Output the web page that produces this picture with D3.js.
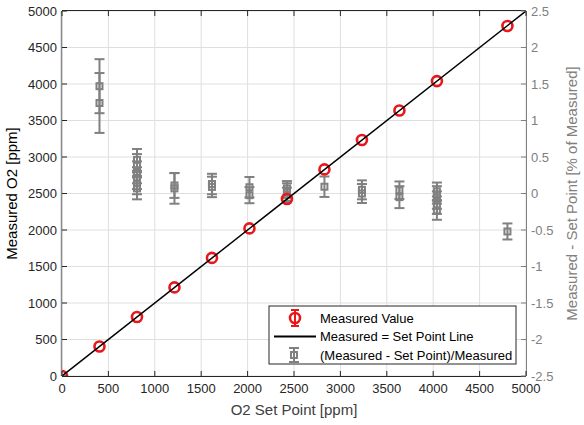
<!DOCTYPE html>
<html><head><meta charset="utf-8">
<script src="https://cdn.jsdelivr.net/npm/d3@7"></script>
<style>body{margin:0;background:#fff;} text{font-family:"Liberation Sans",Arial,sans-serif;}</style>
</head><body><svg id="c" width="584" height="425"></svg>
<script>
const setPoints = [0,404,808,1212,1616,2020,2424,2828,3232,3636,4040,4800];
const measured  = [0,404,808,1214,1618,2022,2424,2830,3232,3636,4040,4795];
const devX   = [404,404, 808,808,808,808,808,808, 1212,1212, 1616,1616, 2020,2020, 2424,2424,2424, 2828, 3232,3232, 3636,3636, 4040,4040,4040,4040,4040, 4800];
const devY   = [1.47,1.24, 0.46,0.39,0.29,0.21,0.14,0.07, 0.11,0.07, 0.13,0.09, 0.086,-0.023, 0.07,0.02,-0.02, 0.093, 0.05,0.0, 0.045,-0.05, 0.03,-0.02,-0.09,-0.16,-0.23, -0.52];
const devErr = [0.37,0.41, 0.15,0.15,0.15,0.15,0.15,0.15, 0.17,0.21, 0.14,0.14, 0.14,0.11, 0.10,0.12,0.10, 0.14, 0.13,0.13, 0.12,0.15, 0.12,0.12,0.12,0.12,0.13, 0.11];
const xTicks = [0,500,1000,1500,2000,2500,3000,3500,4000,4500,5000];
const yLeftTicks = [0,500,1000,1500,2000,2500,3000,3500,4000,4500,5000];
const yRightTicks = [-2.5,-2,-1.5,-1,-0.5,0,0.5,1,1.5,2,2.5];
const legendLabels = ["Measured Value","Measured = Set Point Line","(Measured - Set Point)/Measured"];

const L=62,R=526,T=11,B=376;
const svg=d3.select("#c");
const x=d3.scaleLinear().domain([0,5000]).range([L,R]);
const yL=d3.scaleLinear().domain([0,5000]).range([B,T]);
const yR=d3.scaleLinear().domain([-2.5,2.5]).range([B,T]);
const gray="#808080", red="#e8171c", dark="#262626";

// grid
const g=svg.append("g");
g.selectAll(".gx").data(xTicks).join("line").attr("x1",d=>x(d)).attr("x2",d=>x(d)).attr("y1",T).attr("y2",B).attr("stroke","#dfdfdf").attr("stroke-width",1);
g.selectAll(".gy").data(yLeftTicks).join("line").attr("y1",d=>yL(d)).attr("y2",d=>yL(d)).attr("x1",L).attr("x2",R).attr("stroke","#dfdfdf").attr("stroke-width",1);

svg.append("defs").append("clipPath").attr("id","clip").append("rect").attr("x",L).attr("y",T).attr("width",R-L).attr("height",B-T);
const plot=svg.append("g").attr("clip-path","url(#clip)");

// gray error bars
const dev=devX.map((d,i)=>({x:d,y:devY[i],e:devErr[i]}));
const eg=plot.append("g").attr("stroke",gray).attr("stroke-width",2).attr("fill","none");
dev.forEach(d=>{
  const cx=x(d.x), y0=yR(d.y-d.e), y1=yR(d.y+d.e);
  eg.append("line").attr("x1",cx).attr("x2",cx).attr("y1",y0).attr("y2",y1);
  eg.append("line").attr("x1",cx-5).attr("x2",cx+5).attr("y1",y0).attr("y2",y0);
  eg.append("line").attr("x1",cx-5).attr("x2",cx+5).attr("y1",y1).attr("y2",y1);
  eg.append("rect").attr("x",cx-3).attr("y",yR(d.y)-3).attr("width",6).attr("height",6);
});

// red circles
plot.append("g").selectAll("circle").data(setPoints.map((d,i)=>({x:d,y:measured[i]}))).join("circle")
  .attr("cx",d=>x(d.x)).attr("cy",d=>yL(d.y)).attr("r",5).attr("fill","none").attr("stroke",red).attr("stroke-width",2.6);

// 1:1 line
plot.append("line").attr("x1",x(0)).attr("y1",yL(0)).attr("x2",x(5000)).attr("y2",yL(5000)).attr("stroke","#000").attr("stroke-width",1.5);

// axes box
svg.append("line").attr("x1",L).attr("x2",R).attr("y1",B+0.5).attr("y2",B+0.5).attr("stroke",dark);
svg.append("line").attr("x1",L).attr("x2",R).attr("y1",T-0.5).attr("y2",T-0.5).attr("stroke",dark);
svg.append("line").attr("x1",L-0.5).attr("x2",L-0.5).attr("y1",T).attr("y2",B).attr("stroke","#8a8a8e").attr("stroke-width",1.5);
svg.append("line").attr("x1",R+0.5).attr("x2",R+0.5).attr("y1",T).attr("y2",B).attr("stroke",gray);

// ticks and tick labels
const xt=svg.append("g");
xTicks.forEach(d=>{
  xt.append("line").attr("x1",x(d)).attr("x2",x(d)).attr("y1",B).attr("y2",B-5).attr("stroke",dark);
  xt.append("line").attr("x1",x(d)).attr("x2",x(d)).attr("y1",T).attr("y2",T+5).attr("stroke",dark);
  xt.append("text").attr("x",x(d)).attr("y",B+17).attr("text-anchor","middle").attr("font-size",13).attr("fill",dark).text(d);
});
yLeftTicks.forEach(d=>{
  xt.append("line").attr("x1",L).attr("x2",L+5).attr("y1",yL(d)).attr("y2",yL(d)).attr("stroke",dark);
  xt.append("text").attr("x",L-5).attr("y",yL(d)+4.5).attr("text-anchor","end").attr("font-size",13).attr("fill",dark).text(d);
});
yRightTicks.forEach(d=>{
  xt.append("line").attr("x1",R).attr("x2",R-5).attr("y1",yR(d)).attr("y2",yR(d)).attr("stroke",gray);
  xt.append("text").attr("x",R+5).attr("y",yR(d)+4.5).attr("text-anchor","start").attr("font-size",13).attr("fill",gray).text(d);
});

// axis labels
svg.append("text").attr("x",(L+R)/2).attr("y",415).attr("text-anchor","middle").attr("font-size",15).attr("fill","#404040").text("O2 Set Point [ppm]");
svg.append("text").attr("transform",`translate(17,${(T+B)/2}) rotate(-90)`).attr("text-anchor","middle").attr("font-size",15).attr("fill","#000").text("Measured O2 [ppm]");
svg.append("text").attr("transform",`translate(577,${(T+B)/2}) rotate(-90)`).attr("text-anchor","middle").attr("font-size",15).attr("fill",gray).text("Measured - Set Point [% of Measured]");

// legend
const lg=svg.append("g");
const lx=269, ly=306, lw=247, lh=58;
lg.append("rect").attr("x",lx).attr("y",ly).attr("width",lw).attr("height",lh).attr("fill","#fff").attr("stroke",dark).attr("stroke-width",1);
const rows=[318,336.5,355];
legendLabels.forEach((t,i)=>lg.append("text").attr("x",320).attr("y",rows[i]+4.5).attr("font-size",13).attr("fill","#000").text(t));
// icon 1
lg.append("line").attr("x1",295).attr("x2",295).attr("y1",rows[0]-8).attr("y2",rows[0]+8).attr("stroke",red).attr("stroke-width",2);
lg.append("line").attr("x1",291).attr("x2",299).attr("y1",rows[0]-8).attr("y2",rows[0]-8).attr("stroke",red).attr("stroke-width",2);
lg.append("line").attr("x1",291).attr("x2",299).attr("y1",rows[0]+8).attr("y2",rows[0]+8).attr("stroke",red).attr("stroke-width",2);
lg.append("circle").attr("cx",295).attr("cy",rows[0]).attr("r",5).attr("fill","none").attr("stroke",red).attr("stroke-width",2.6);
// icon 2
lg.append("line").attr("x1",274).attr("x2",316).attr("y1",rows[1]).attr("y2",rows[1]).attr("stroke","#000").attr("stroke-width",2);
// icon 3
lg.append("line").attr("x1",294).attr("x2",294).attr("y1",rows[2]-7).attr("y2",rows[2]+7).attr("stroke",gray).attr("stroke-width",2);
lg.append("line").attr("x1",289).attr("x2",299).attr("y1",rows[2]-7).attr("y2",rows[2]-7).attr("stroke",gray).attr("stroke-width",2);
lg.append("line").attr("x1",289).attr("x2",299).attr("y1",rows[2]+7).attr("y2",rows[2]+7).attr("stroke",gray).attr("stroke-width",2);
lg.append("rect").attr("x",291).attr("y",rows[2]-3).attr("width",6).attr("height",6).attr("fill","none").attr("stroke",gray).attr("stroke-width",2);
</script></body></html>
